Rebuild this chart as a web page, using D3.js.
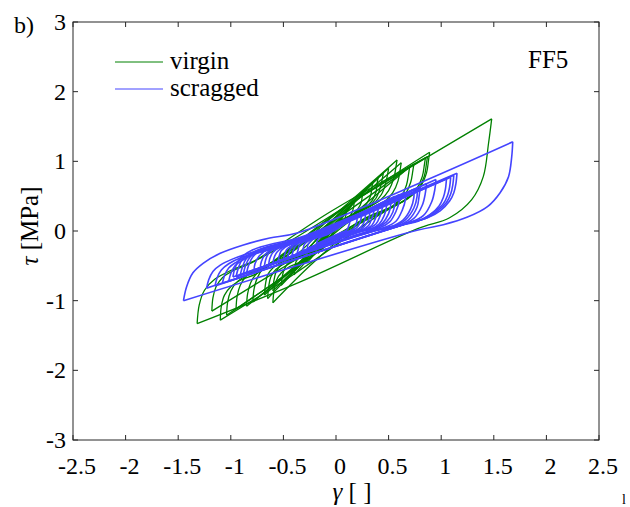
<!DOCTYPE html>
<html>
<head>
<meta charset="utf-8">
<script src="https://cdn.jsdelivr.net/npm/d3@7"></script>
<style>
body { margin: 0; background: #fff; }
text { font-family: "Liberation Serif", "Times New Roman", serif; fill: #000; }
</style>
</head>
<body>
<svg id="chart" width="630" height="507"></svg>
<script>
// ---- data (gamma [-], tau [MPa]) ----
// every loop starts at its upper tip, runs down to the lower tip and back up
var xTicks = [-2.5, -2, -1.5, -1, -0.5, 0, 0.5, 1, 1.5, 2, 2.5];
var yTicks = [-3, -2, -1, 0, 1, 2, 3];

// virgin (green)
var g1 = [[1.48,1.61],[1.45,1.26],[1.40,0.78],[1.29,0.45],[1.08,0.19],[0.77,0.03],[-0.34,-0.73],[-1.32,-1.33],[-1.30,-1.06],[-1.25,-0.85],[-1.15,-0.69],[-0.99,-0.56],[-0.72,-0.39],[0.38,0.62]];
var g2 = [[0.89,1.13],[0.88,1.02],[0.86,0.83],[0.80,0.63],[0.70,0.49],[0.61,0.40],[0.40,0.22],[-0.40,-0.62],[-1.10,-1.28],[-1.09,-1.08],[-1.06,-0.92],[-1.00,-0.80],[-0.90,-0.70],[-0.74,-0.60],[0.05,0.30]];
var g3 = [[0.87,1.07],[0.86,0.97],[0.84,0.79],[0.78,0.60],[0.68,0.46],[0.54,0.35],[0.28,0.18],[-0.50,-0.52],[-1.18,-1.15],[-1.17,-0.96],[-1.14,-0.80],[-1.08,-0.67],[-0.98,-0.57],[-0.82,-0.47],[-0.05,0.28]];
var g4 = [[0.85,1.05],[0.84,0.95],[0.82,0.78],[0.76,0.59],[0.66,0.45],[0.52,0.34],[0.26,0.17],[-0.42,-0.57],[-1.04,-1.21],[-1.03,-1.02],[-1.00,-0.86],[-0.94,-0.73],[-0.84,-0.63],[-0.68,-0.52],[0.02,0.28]];
var g5 = [[0.58,1.02],[0.57,0.92],[0.55,0.76],[0.50,0.58],[0.42,0.44],[0.30,0.33],[0.10,0.17],[-0.35,-0.45],[-0.79,-1.02],[-0.78,-0.84],[-0.75,-0.68],[-0.70,-0.55],[-0.61,-0.45],[-0.47,-0.35],[0.00,0.25]];
var g6 = [[0.70,0.92],[0.69,0.82],[0.67,0.66],[0.62,0.49],[0.54,0.36],[0.42,0.25],[0.22,0.10],[-0.22,-0.46],[-0.60,-1.03],[-0.59,-0.86],[-0.57,-0.72],[-0.52,-0.60],[-0.44,-0.51],[-0.31,-0.42],[0.12,0.18]];
var g7 = [[0.45,0.83],[0.44,0.75],[0.42,0.62],[0.38,0.47],[0.31,0.36],[0.21,0.27],[0.04,0.14],[-0.30,-0.38],[-0.68,-0.92],[-0.67,-0.76],[-0.65,-0.63],[-0.60,-0.53],[-0.52,-0.45],[-0.40,-0.37],[-0.05,0.14]];
var g8 = [[0.35,0.69],[0.34,0.62],[0.33,0.51],[0.29,0.39],[0.23,0.30],[0.15,0.22],[0.02,0.11],[-0.22,-0.30],[-0.52,-0.78],[-0.51,-0.65],[-0.49,-0.54],[-0.45,-0.46],[-0.38,-0.39],[-0.28,-0.32],[-0.02,0.10]];
var g9 = [[0.26,0.56],[0.25,0.50],[0.24,0.41],[0.21,0.32],[0.16,0.24],[0.10,0.18],[0.00,0.09],[-0.17,-0.24],[-0.40,-0.63],[-0.39,-0.53],[-0.38,-0.44],[-0.34,-0.37],[-0.29,-0.31],[-0.21,-0.26],[-0.02,0.07]];
var g10 = [[0.17,0.42],[0.17,0.37],[0.16,0.30],[0.14,0.23],[0.10,0.18],[0.05,0.13],[-0.02,0.06],[-0.12,-0.18],[-0.28,-0.46],[-0.27,-0.39],[-0.26,-0.32],[-0.24,-0.27],[-0.20,-0.23],[-0.14,-0.19],[-0.02,0.04]];
var g11 = [[0.10,0.30],[0.10,0.26],[0.09,0.21],[0.08,0.16],[0.05,0.12],[0.01,0.08],[-0.07,-0.12],[-0.17,-0.32],[-0.16,-0.27],[-0.16,-0.22],[-0.14,-0.18],[-0.11,-0.15],[-0.07,-0.11],[0.00,0.03]];
var g12 = [[0.62,0.98],[0.61,0.88],[0.59,0.72],[0.54,0.55],[0.46,0.42],[0.34,0.31],[0.14,0.15],[-0.38,-0.52],[-0.85,-1.08],[-0.84,-0.90],[-0.81,-0.74],[-0.76,-0.62],[-0.67,-0.52],[-0.53,-0.42],[0.02,0.22]];
var g13 = [[0.74,0.96],[0.73,0.86],[0.71,0.70],[0.66,0.53],[0.58,0.40],[0.46,0.29],[0.24,0.13],[-0.40,-0.55],[-0.95,-1.12],[-0.94,-0.94],[-0.91,-0.78],[-0.86,-0.66],[-0.77,-0.56],[-0.62,-0.46],[0.05,0.22]];
var g14 = [[0.50,0.90],[0.49,0.81],[0.47,0.67],[0.43,0.52],[0.36,0.40],[0.25,0.30],[0.07,0.16],[-0.30,-0.42],[-0.65,-0.97],[-0.64,-0.80],[-0.62,-0.66],[-0.57,-0.55],[-0.49,-0.47],[-0.36,-0.39],[0.00,0.20]];
var g15 = [[0.40,0.76],[0.39,0.68],[0.38,0.56],[0.34,0.43],[0.27,0.33],[0.18,0.25],[0.03,0.13],[-0.26,-0.34],[-0.60,-0.86],[-0.59,-0.71],[-0.57,-0.59],[-0.53,-0.50],[-0.45,-0.42],[-0.34,-0.35],[-0.03,0.12]];

// scragged (blue)
var b1 = [[1.68,1.28],[1.67,1.06],[1.64,0.78],[1.56,0.55],[1.44,0.35],[1.25,0.20],[1.02,0.09],[0.77,0.01],[-1.45,-1.00],[-1.42,-0.80],[-1.36,-0.60],[-1.26,-0.46],[-1.10,-0.32],[-0.88,-0.20],[-0.63,-0.10],[-0.37,-0.03]];
var b2 = [[1.15,0.83],[1.14,0.68],[1.12,0.55],[1.08,0.43],[0.99,0.29],[0.87,0.19],[0.70,0.12],[-1.23,-0.82],[-1.21,-0.70],[-1.17,-0.58],[-1.10,-0.49],[-0.98,-0.40],[-0.80,-0.31],[-0.55,-0.22]];
var b3 = [[1.12,0.80],[1.11,0.66],[1.09,0.53],[1.05,0.41],[0.96,0.28],[0.85,0.18],[0.68,0.11],[-1.15,-0.79],[-1.13,-0.67],[-1.09,-0.56],[-1.02,-0.47],[-0.90,-0.38],[-0.72,-0.30],[-0.48,-0.21]];
var b4 = [[1.09,0.77],[1.08,0.63],[1.06,0.51],[1.02,0.39],[0.93,0.27],[0.82,0.17],[0.66,0.10],[-1.08,-0.75],[-1.06,-0.64],[-1.02,-0.53],[-0.95,-0.45],[-0.84,-0.36],[-0.66,-0.28],[-0.43,-0.19]];
var b5 = [[0.80,0.63],[0.79,0.50],[0.77,0.34],[0.69,0.16],[0.56,0.06],[0.36,0.00],[-0.91,-0.63],[-0.89,-0.52],[-0.85,-0.39],[-0.74,-0.28],[-0.57,-0.20],[-0.36,-0.13]];
var b6 = [[0.74,0.60],[0.74,0.48],[0.71,0.32],[0.64,0.16],[0.52,0.06],[0.33,0.00],[-0.85,-0.60],[-0.83,-0.49],[-0.79,-0.37],[-0.69,-0.26],[-0.53,-0.19],[-0.34,-0.12]];
var b7 = [[0.60,0.52],[0.60,0.42],[0.57,0.28],[0.51,0.13],[0.42,0.05],[0.26,0.00],[-0.72,-0.53],[-0.71,-0.44],[-0.67,-0.33],[-0.59,-0.24],[-0.46,-0.17],[-0.30,-0.11]];
var b8 = [[0.52,0.47],[0.52,0.37],[0.50,0.25],[0.44,0.11],[0.36,0.04],[0.22,-0.01],[-0.64,-0.49],[-0.63,-0.40],[-0.60,-0.31],[-0.52,-0.22],[-0.41,-0.16],[-0.27,-0.11]];
var b9 = [[0.44,0.41],[0.44,0.33],[0.42,0.22],[0.38,0.10],[0.30,0.03],[0.18,-0.01],[-0.55,-0.44],[-0.54,-0.36],[-0.52,-0.28],[-0.45,-0.20],[-0.35,-0.15],[-0.23,-0.10]];
var b10 = [[0.36,0.35],[0.36,0.28],[0.34,0.18],[0.31,0.08],[0.25,0.02],[0.15,-0.02],[-0.46,-0.39],[-0.45,-0.32],[-0.43,-0.25],[-0.38,-0.18],[-0.30,-0.14],[-0.20,-0.09]];
var b11 = [[0.28,0.28],[0.28,0.22],[0.27,0.14],[0.24,0.06],[0.19,0.01],[0.11,-0.02],[-0.37,-0.32],[-0.36,-0.27],[-0.35,-0.21],[-0.30,-0.15],[-0.24,-0.12],[-0.16,-0.08]];
var b12 = [[0.20,0.21],[0.20,0.16],[0.19,0.10],[0.17,0.04],[0.13,0.00],[0.08,-0.02],[-0.27,-0.25],[-0.27,-0.21],[-0.25,-0.16],[-0.22,-0.12],[-0.18,-0.09],[-0.12,-0.07]];
var b13 = [[0.13,0.15],[0.13,0.12],[0.12,0.07],[0.11,0.03],[0.09,0.00],[0.05,-0.02],[-0.18,-0.18],[-0.18,-0.15],[-0.17,-0.12],[-0.15,-0.09],[-0.12,-0.07],[-0.08,-0.05]];
var b14 = [[1.05,0.75],[1.04,0.60],[1.02,0.48],[0.98,0.36],[0.89,0.23],[0.78,0.14],[0.62,0.08],[-1.02,-0.72],[-1.00,-0.61],[-0.96,-0.50],[-0.89,-0.42],[-0.78,-0.33],[-0.60,-0.25],[-0.38,-0.17]];
var b15 = [[0.77,0.61],[0.77,0.49],[0.74,0.33],[0.66,0.16],[0.54,0.06],[0.34,0.00],[-0.88,-0.61],[-0.86,-0.50],[-0.82,-0.38],[-0.72,-0.27],[-0.55,-0.20],[-0.35,-0.12]];
var b16 = [[0.66,0.56],[0.66,0.45],[0.63,0.30],[0.57,0.14],[0.46,0.05],[0.29,-0.01],[-0.78,-0.57],[-0.77,-0.47],[-0.73,-0.36],[-0.64,-0.25],[-0.49,-0.19],[-0.32,-0.12]];
var b17 = [[0.56,0.50],[0.56,0.40],[0.54,0.27],[0.48,0.13],[0.39,0.05],[0.24,0.00],[-0.68,-0.51],[-0.67,-0.42],[-0.64,-0.32],[-0.56,-0.23],[-0.43,-0.17],[-0.28,-0.11]];
var b18 = [[0.48,0.44],[0.48,0.35],[0.46,0.23],[0.41,0.10],[0.33,0.03],[0.20,-0.01],[-0.60,-0.47],[-0.59,-0.39],[-0.56,-0.30],[-0.49,-0.22],[-0.38,-0.16],[-0.25,-0.11]];
var b19 = [[0.40,0.38],[0.40,0.30],[0.38,0.20],[0.34,0.08],[0.27,0.02],[0.17,-0.02],[-0.50,-0.42],[-0.49,-0.35],[-0.47,-0.27],[-0.41,-0.20],[-0.32,-0.15],[-0.21,-0.10]];
var b20 = [[0.32,0.32],[0.32,0.25],[0.31,0.16],[0.27,0.07],[0.22,0.01],[0.13,-0.02],[-0.42,-0.36],[-0.41,-0.30],[-0.39,-0.23],[-0.35,-0.17],[-0.27,-0.13],[-0.18,-0.09]];
var b21 = [[0.24,0.25],[0.24,0.20],[0.23,0.13],[0.20,0.05],[0.16,0.01],[0.09,-0.02],[-0.32,-0.29],[-0.31,-0.24],[-0.30,-0.19],[-0.26,-0.14],[-0.21,-0.11],[-0.14,-0.07]];
var b22 = [[0.95,0.74],[0.94,0.60],[0.91,0.42],[0.83,0.22],[0.68,0.11],[0.45,0.04],[-0.98,-0.66],[-0.96,-0.53],[-0.91,-0.39],[-0.79,-0.27],[-0.59,-0.18],[-0.36,-0.10]];
var b23 = [[0.86,0.68],[0.85,0.55],[0.82,0.37],[0.74,0.18],[0.61,0.08],[0.39,0.01],[-0.95,-0.66],[-0.93,-0.54],[-0.89,-0.41],[-0.77,-0.29],[-0.59,-0.20],[-0.37,-0.12]];

var virgin = [g1, g2, g3, g4, g5, g6, g7, g8, g9, g10, g11, g12, g13, g14, g15];
var scragged = [b1, b2, b3, b4, b14, b22, b23, b5, b15, b6, b16, b7, b17, b8, b18, b9, b19, b10, b20, b11, b21, b12, b13];

var greenColor = "#008000",
    blueColor = "#4444ff";

// ---- layout ----
var svg = d3.select("#chart");
var box = { left: 73, right: 599, top: 22, bottom: 440 };

var x = d3.scaleLinear().domain([-2.5, 2.5]).range([box.left, box.right]);
var y = d3.scaleLinear().domain([-3, 3]).range([box.bottom, box.top]);

var line = d3.line()
    .x(function(d){ return x(d[0]); })
    .y(function(d){ return y(d[1]); })
    .curve(d3.curveCatmullRom.alpha(0.5));

function drawLoops(loops, color, width){
    var g = svg.append("g")
        .attr("fill", "none")
        .attr("stroke", color)
        .attr("stroke-width", width)
        .attr("stroke-linejoin", "round");
    loops.forEach(function(pts){
        // split at the lower tip so both reversal points stay sharp
        var iL = d3.minIndex(pts, function(d){ return d[0]; });
        var down = pts.slice(0, iL + 1);
        var up = pts.slice(iL).concat([pts[0]]);
        g.append("path").attr("d", line(down));
        g.append("path").attr("d", line(up));
    });
}

drawLoops(virgin, greenColor, 1.3);
drawLoops(scragged, blueColor, 1.6);

// ---- axes box with inward ticks ----
var axis = svg.append("g").attr("stroke", "#262626").attr("stroke-width", 1).attr("fill", "none");
axis.append("rect")
    .attr("x", box.left).attr("y", box.top)
    .attr("width", box.right - box.left).attr("height", box.bottom - box.top);

var tl = 5;
xTicks.forEach(function(t){
    axis.append("line").attr("x1", x(t)).attr("x2", x(t)).attr("y1", box.bottom).attr("y2", box.bottom - tl);
    axis.append("line").attr("x1", x(t)).attr("x2", x(t)).attr("y1", box.top).attr("y2", box.top + tl);
});
yTicks.forEach(function(t){
    axis.append("line").attr("x1", box.left).attr("x2", box.left + tl).attr("y1", y(t)).attr("y2", y(t));
    axis.append("line").attr("x1", box.right).attr("x2", box.right - tl).attr("y1", y(t)).attr("y2", y(t));
});

svg.append("g").selectAll("text")
    .data(xTicks)
    .enter().append("text")
    .attr("x", function(d){ return x(d) + 4; })
    .attr("y", 474)
    .attr("text-anchor", "middle")
    .attr("font-size", 24)
    .text(function(d){ return String(d); });

svg.append("g").selectAll("text")
    .data(yTicks)
    .enter().append("text")
    .attr("x", 66)
    .attr("y", function(d){ return y(d) + 8; })
    .attr("text-anchor", "end")
    .attr("font-size", 24)
    .text(function(d){ return String(d); });

// axis labels
var xl = svg.append("text")
    .attr("x", 352).attr("y", 500)
    .attr("text-anchor", "middle")
    .attr("font-size", 25);
xl.append("tspan").attr("font-style", "italic").text("γ");
xl.append("tspan").text(" [ ]");

var yl = svg.append("text")
    .attr("transform", "translate(38,226) rotate(-90)")
    .attr("text-anchor", "middle")
    .attr("font-size", 25);
yl.append("tspan").attr("font-style", "italic").text("τ");
yl.append("tspan").text(" [MPa]");

svg.append("text").attr("x", 14).attr("y", 33).attr("font-size", 24).text("b)");
svg.append("text").attr("x", 528).attr("y", 68).attr("font-size", 25).text("FF5");

// legend
var legend = [["virgin", greenColor, 62], ["scragged", blueColor, 89]];
legend.forEach(function(d){
    svg.append("line")
        .attr("x1", 115).attr("x2", 163)
        .attr("y1", d[2]).attr("y2", d[2])
        .attr("stroke", d[1]).attr("stroke-width", 1);
    svg.append("text")
        .attr("x", 170).attr("y", d[2] + 7)
        .attr("font-size", 25)
        .text(d[0]);
});

// stray mark from the neighbouring panel
svg.append("text").attr("x", 622).attr("y", 504).attr("font-size", 14).attr("fill", "#555").text("l");
</script>
</body>
</html>
